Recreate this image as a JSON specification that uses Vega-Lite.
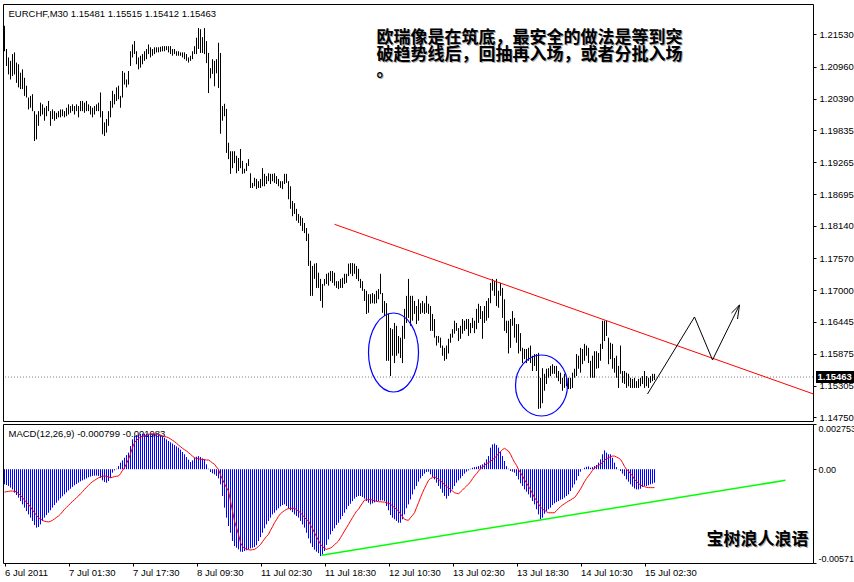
{
"$schema": "https://vega.github.io/schema/vega-lite/v6.json",
"padding": {"left": 2, "top": 3, "right": 0, "bottom": 0},
"background": "#ffffff",
"spacing": 3,
"bounds": "flush",
"config": {
  "view": {"stroke": "#000000", "strokeWidth": 1},
  "axis": {"labelFont": "Liberation Sans", "labelFontSize": 9.5, "labelColor": "#000000", "tickColor": "#000000", "tickSize": 3, "domain": false, "grid": false, "labelOverlap": false},
  "text": {"font": "Liberation Sans"}
},
"datasets": {
"bars": [
{"i":0,"h":1.2168,"l":1.2123,"m":-0.00092,"s":-0.00139},
{"i":1,"h":1.2127,"l":1.2097,"m":-0.00096,"s":-0.00137},
{"i":2,"h":1.2112,"l":1.2082,"m":-0.00102,"s":-0.00135},
{"i":3,"h":1.2106,"l":1.2073,"m":-0.00112,"s":-0.00133},
{"i":4,"h":1.2118,"l":1.2079,"m":-0.00123,"s":-0.00133},
{"i":5,"h":1.2121,"l":1.2082,"m":-0.00143,"s":-0.00135},
{"i":6,"h":1.2103,"l":1.2067,"m":-0.00157,"s":-0.00137},
{"i":7,"h":1.2100,"l":1.2059,"m":-0.00173,"s":-0.00149},
{"i":8,"h":1.2085,"l":1.2056,"m":-0.00194,"s":-0.00159},
{"i":9,"h":1.2091,"l":1.2056,"m":-0.00214,"s":-0.00173},
{"i":10,"h":1.2076,"l":1.2044,"m":-0.00234,"s":-0.00188},
{"i":11,"h":1.2062,"l":1.2041,"m":-0.00255,"s":-0.00202},
{"i":12,"h":1.2041,"l":1.2020,"m":-0.00275,"s":-0.00214},
{"i":13,"h":1.2044,"l":1.2023,"m":-0.00295,"s":-0.00230},
{"i":14,"h":1.2047,"l":1.2017,"m":-0.00315,"s":-0.00248},
{"i":15,"h":1.2017,"l":1.1964,"m":-0.00340,"s":-0.00265},
{"i":16,"h":1.2011,"l":1.1967,"m":-0.00356,"s":-0.00281},
{"i":17,"h":1.2017,"l":1.1991,"m":-0.00352,"s":-0.00295},
{"i":18,"h":1.2032,"l":1.2008,"m":-0.00336,"s":-0.00303},
{"i":19,"h":1.2029,"l":1.2011,"m":-0.00315,"s":-0.00311},
{"i":20,"h":1.2023,"l":1.2000,"m":-0.00295,"s":-0.00317},
{"i":21,"h":1.2026,"l":1.2008,"m":-0.00279,"s":-0.00319},
{"i":22,"h":1.2035,"l":1.2017,"m":-0.00265,"s":-0.00321},
{"i":23,"h":1.2017,"l":1.1991,"m":-0.00250,"s":-0.00317},
{"i":24,"h":1.2020,"l":1.2003,"m":-0.00234,"s":-0.00311},
{"i":25,"h":1.2017,"l":1.2000,"m":-0.00218,"s":-0.00303},
{"i":26,"h":1.2014,"l":1.2003,"m":-0.00204,"s":-0.00293},
{"i":27,"h":1.2017,"l":1.2006,"m":-0.00190,"s":-0.00285},
{"i":28,"h":1.2020,"l":1.2006,"m":-0.00177,"s":-0.00273},
{"i":29,"h":1.2020,"l":1.2008,"m":-0.00165,"s":-0.00259},
{"i":30,"h":1.2017,"l":1.2006,"m":-0.00153,"s":-0.00244},
{"i":31,"h":1.2023,"l":1.2008,"m":-0.00141,"s":-0.00232},
{"i":32,"h":1.2029,"l":1.2011,"m":-0.00129,"s":-0.00220},
{"i":33,"h":1.2026,"l":1.2014,"m":-0.00119,"s":-0.00208},
{"i":34,"h":1.2029,"l":1.2017,"m":-0.00108,"s":-0.00196},
{"i":35,"h":1.2026,"l":1.2011,"m":-0.00098,"s":-0.00186},
{"i":36,"h":1.2029,"l":1.2017,"m":-0.00090,"s":-0.00173},
{"i":37,"h":1.2026,"l":1.2006,"m":-0.00082,"s":-0.00163},
{"i":38,"h":1.2035,"l":1.2017,"m":-0.00074,"s":-0.00149},
{"i":39,"h":1.2035,"l":1.2017,"m":-0.00068,"s":-0.00137},
{"i":40,"h":1.2032,"l":1.2014,"m":-0.00062,"s":-0.00123},
{"i":41,"h":1.2035,"l":1.2017,"m":-0.00056,"s":-0.00110},
{"i":42,"h":1.2029,"l":1.2017,"m":-0.00049,"s":-0.00098},
{"i":43,"h":1.2026,"l":1.2011,"m":-0.00045,"s":-0.00086},
{"i":44,"h":1.2023,"l":1.2006,"m":-0.00041,"s":-0.00076},
{"i":45,"h":1.2026,"l":1.2011,"m":-0.00039,"s":-0.00068},
{"i":46,"h":1.2029,"l":1.2017,"m":-0.00039,"s":-0.00060},
{"i":47,"h":1.2032,"l":1.2017,"m":-0.00041,"s":-0.00052},
{"i":48,"h":1.2050,"l":1.2006,"m":-0.00052,"s":-0.00047},
{"i":49,"h":1.2017,"l":1.1976,"m":-0.00068,"s":-0.00043},
{"i":50,"h":1.1997,"l":1.1973,"m":-0.00078,"s":-0.00041},
{"i":51,"h":1.2003,"l":1.1979,"m":-0.00082,"s":-0.00043},
{"i":52,"h":1.2017,"l":1.1991,"m":-0.00072,"s":-0.00047},
{"i":53,"h":1.2035,"l":1.2006,"m":-0.00052,"s":-0.00052},
{"i":54,"h":1.2053,"l":1.2023,"m":-0.00021,"s":-0.00049},
{"i":55,"h":1.2047,"l":1.2029,"m":-0.00007,"s":-0.00045},
{"i":56,"h":1.2059,"l":1.2035,"m":0.00003,"s":-0.00043},
{"i":57,"h":1.2062,"l":1.2038,"m":0.00019,"s":-0.00041},
{"i":58,"h":1.2044,"l":1.2023,"m":0.00040,"s":-0.00027},
{"i":59,"h":1.2088,"l":1.2041,"m":0.00054,"s":-0.00007},
{"i":60,"h":1.2085,"l":1.2064,"m":0.00070,"s":0.00009},
{"i":61,"h":1.2073,"l":1.2059,"m":0.00086,"s":0.00034},
{"i":62,"h":1.2088,"l":1.2064,"m":0.00101,"s":0.00060},
{"i":63,"h":1.2123,"l":1.2097,"m":0.00141,"s":0.00095},
{"i":64,"h":1.2135,"l":1.2112,"m":0.00182,"s":0.00131},
{"i":65,"h":1.2141,"l":1.2118,"m":0.00202,"s":0.00162},
{"i":66,"h":1.2123,"l":1.2100,"m":0.00208,"s":0.00176},
{"i":67,"h":1.2112,"l":1.2091,"m":0.00212,"s":0.00186},
{"i":68,"h":1.2115,"l":1.2094,"m":0.00214,"s":0.00196},
{"i":69,"h":1.2118,"l":1.2100,"m":0.00216,"s":0.00200},
{"i":70,"h":1.2123,"l":1.2106,"m":0.00216,"s":0.00204},
{"i":71,"h":1.2127,"l":1.2109,"m":0.00216,"s":0.00208},
{"i":72,"h":1.2135,"l":1.2118,"m":0.00216,"s":0.00212},
{"i":73,"h":1.2130,"l":1.2112,"m":0.00216,"s":0.00214},
{"i":74,"h":1.2127,"l":1.2115,"m":0.00214,"s":0.00216},
{"i":75,"h":1.2130,"l":1.2118,"m":0.00214,"s":0.00216},
{"i":76,"h":1.2130,"l":1.2121,"m":0.00212,"s":0.00214},
{"i":77,"h":1.2130,"l":1.2121,"m":0.00212,"s":0.00212},
{"i":78,"h":1.2131,"l":1.2122,"m":0.00206,"s":0.00208},
{"i":79,"h":1.2132,"l":1.2123,"m":0.00198,"s":0.00204},
{"i":80,"h":1.2132,"l":1.2123,"m":0.00192,"s":0.00200},
{"i":81,"h":1.2132,"l":1.2125,"m":0.00182,"s":0.00196},
{"i":82,"h":1.2132,"l":1.2121,"m":0.00172,"s":0.00192},
{"i":83,"h":1.2132,"l":1.2118,"m":0.00164,"s":0.00184},
{"i":84,"h":1.2127,"l":1.2115,"m":0.00156,"s":0.00176},
{"i":85,"h":1.2127,"l":1.2118,"m":0.00147,"s":0.00168},
{"i":86,"h":1.2123,"l":1.2115,"m":0.00139,"s":0.00158},
{"i":87,"h":1.2123,"l":1.2115,"m":0.00131,"s":0.00147},
{"i":88,"h":1.2121,"l":1.2115,"m":0.00119,"s":0.00137},
{"i":89,"h":1.2121,"l":1.2112,"m":0.00105,"s":0.00127},
{"i":90,"h":1.2121,"l":1.2109,"m":0.00091,"s":0.00119},
{"i":91,"h":1.2118,"l":1.2106,"m":0.00074,"s":0.00111},
{"i":92,"h":1.2112,"l":1.2103,"m":0.00058,"s":0.00101},
{"i":93,"h":1.2115,"l":1.2106,"m":0.00044,"s":0.00091},
{"i":94,"h":1.2123,"l":1.2109,"m":0.00054,"s":0.00080},
{"i":95,"h":1.2132,"l":1.2118,"m":0.00070,"s":0.00070},
{"i":96,"h":1.2147,"l":1.2118,"m":0.00076,"s":0.00066},
{"i":97,"h":1.2164,"l":1.2127,"m":0.00080,"s":0.00064},
{"i":98,"h":1.2162,"l":1.2120,"m":0.00074,"s":0.00060},
{"i":99,"h":1.2148,"l":1.2120,"m":0.00066,"s":0.00060},
{"i":100,"h":1.2164,"l":1.2118,"m":0.00060,"s":0.00058},
{"i":101,"h":1.2141,"l":1.2102,"m":0.00030,"s":0.00056},
{"i":102,"h":1.2120,"l":1.2049,"m":0.00003,"s":0.00056},
{"i":103,"h":1.2093,"l":1.2075,"m":-0.00017,"s":0.00048},
{"i":104,"h":1.2109,"l":1.2083,"m":-0.00025,"s":0.00038},
{"i":105,"h":1.2106,"l":1.2061,"m":-0.00031,"s":0.00030},
{"i":106,"h":1.2109,"l":1.2084,"m":-0.00041,"s":0.00013},
{"i":107,"h":1.2138,"l":1.2058,"m":-0.00056,"s":-0.00001},
{"i":108,"h":1.2120,"l":1.1977,"m":-0.00092,"s":-0.00035},
{"i":109,"h":1.2026,"l":1.2000,"m":-0.00163,"s":-0.00062},
{"i":110,"h":1.2030,"l":1.2008,"m":-0.00234,"s":-0.00088},
{"i":111,"h":1.2021,"l":1.1943,"m":-0.00295,"s":-0.00112},
{"i":112,"h":1.1961,"l":1.1932,"m":-0.00346,"s":-0.00133},
{"i":113,"h":1.1946,"l":1.1906,"m":-0.00387,"s":-0.00194},
{"i":114,"h":1.1946,"l":1.1916,"m":-0.00437,"s":-0.00255},
{"i":115,"h":1.1946,"l":1.1925,"m":-0.00468,"s":-0.00315},
{"i":116,"h":1.1938,"l":1.1907,"m":-0.00478,"s":-0.00356},
{"i":117,"h":1.1934,"l":1.1911,"m":-0.00488,"s":-0.00397},
{"i":118,"h":1.1950,"l":1.1916,"m":-0.00502,"s":-0.00447},
{"i":119,"h":1.1929,"l":1.1906,"m":-0.00504,"s":-0.00470},
{"i":120,"h":1.1915,"l":1.1907,"m":-0.00498,"s":-0.00482},
{"i":121,"h":1.1925,"l":1.1911,"m":-0.00494,"s":-0.00486},
{"i":122,"h":1.1932,"l":1.1920,"m":-0.00488,"s":-0.00490},
{"i":123,"h":1.1907,"l":1.1881,"m":-0.00482,"s":-0.00492},
{"i":124,"h":1.1890,"l":1.1881,"m":-0.00478,"s":-0.00490},
{"i":125,"h":1.1899,"l":1.1884,"m":-0.00474,"s":-0.00488},
{"i":126,"h":1.1897,"l":1.1879,"m":-0.00463,"s":-0.00480},
{"i":127,"h":1.1893,"l":1.1881,"m":-0.00437,"s":-0.00470},
{"i":128,"h":1.1897,"l":1.1881,"m":-0.00413,"s":-0.00459},
{"i":129,"h":1.1916,"l":1.1884,"m":-0.00387,"s":-0.00441},
{"i":130,"h":1.1906,"l":1.1884,"m":-0.00360,"s":-0.00425},
{"i":131,"h":1.1902,"l":1.1888,"m":-0.00336,"s":-0.00409},
{"i":132,"h":1.1907,"l":1.1893,"m":-0.00315,"s":-0.00397},
{"i":133,"h":1.1906,"l":1.1888,"m":-0.00295,"s":-0.00372},
{"i":134,"h":1.1906,"l":1.1893,"m":-0.00275,"s":-0.00350},
{"i":135,"h":1.1907,"l":1.1890,"m":-0.00265,"s":-0.00326},
{"i":136,"h":1.1902,"l":1.1888,"m":-0.00250,"s":-0.00307},
{"i":137,"h":1.1897,"l":1.1884,"m":-0.00238,"s":-0.00287},
{"i":138,"h":1.1893,"l":1.1881,"m":-0.00226,"s":-0.00271},
{"i":139,"h":1.1893,"l":1.1879,"m":-0.00218,"s":-0.00261},
{"i":140,"h":1.1906,"l":1.1888,"m":-0.00214,"s":-0.00252},
{"i":141,"h":1.1906,"l":1.1890,"m":-0.00224,"s":-0.00244},
{"i":142,"h":1.1893,"l":1.1861,"m":-0.00238,"s":-0.00240},
{"i":143,"h":1.1884,"l":1.1844,"m":-0.00250,"s":-0.00238},
{"i":144,"h":1.1858,"l":1.1831,"m":-0.00261,"s":-0.00238},
{"i":145,"h":1.1854,"l":1.1835,"m":-0.00275,"s":-0.00238},
{"i":146,"h":1.1844,"l":1.1823,"m":-0.00285,"s":-0.00246},
{"i":147,"h":1.1835,"l":1.1819,"m":-0.00295,"s":-0.00255},
{"i":148,"h":1.1831,"l":1.1814,"m":-0.00315,"s":-0.00265},
{"i":149,"h":1.1828,"l":1.1805,"m":-0.00336,"s":-0.00279},
{"i":150,"h":1.1819,"l":1.1801,"m":-0.00356,"s":-0.00293},
{"i":151,"h":1.1810,"l":1.1787,"m":-0.00387,"s":-0.00307},
{"i":152,"h":1.1800,"l":1.1743,"m":-0.00421,"s":-0.00315},
{"i":153,"h":1.1752,"l":1.1690,"m":-0.00451,"s":-0.00340},
{"i":154,"h":1.1743,"l":1.1690,"m":-0.00474,"s":-0.00362},
{"i":155,"h":1.1747,"l":1.1720,"m":-0.00490,"s":-0.00387},
{"i":156,"h":1.1748,"l":1.1704,"m":-0.00502,"s":-0.00411},
{"i":157,"h":1.1731,"l":1.1704,"m":-0.00511,"s":-0.00433},
{"i":158,"h":1.1720,"l":1.1681,"m":-0.00529,"s":-0.00457},
{"i":159,"h":1.1711,"l":1.1669,"m":-0.00519,"s":-0.00470},
{"i":160,"h":1.1720,"l":1.1708,"m":-0.00498,"s":-0.00482},
{"i":161,"h":1.1729,"l":1.1711,"m":-0.00461,"s":-0.00488},
{"i":162,"h":1.1731,"l":1.1708,"m":-0.00427,"s":-0.00484},
{"i":163,"h":1.1734,"l":1.1716,"m":-0.00397,"s":-0.00480},
{"i":164,"h":1.1734,"l":1.1713,"m":-0.00376,"s":-0.00472},
{"i":165,"h":1.1731,"l":1.1708,"m":-0.00360,"s":-0.00459},
{"i":166,"h":1.1716,"l":1.1704,"m":-0.00340,"s":-0.00449},
{"i":167,"h":1.1716,"l":1.1702,"m":-0.00326,"s":-0.00437},
{"i":168,"h":1.1720,"l":1.1704,"m":-0.00305,"s":-0.00417},
{"i":169,"h":1.1722,"l":1.1704,"m":-0.00285,"s":-0.00397},
{"i":170,"h":1.1729,"l":1.1711,"m":-0.00265,"s":-0.00376},
{"i":171,"h":1.1729,"l":1.1713,"m":-0.00244,"s":-0.00356},
{"i":172,"h":1.1747,"l":1.1725,"m":-0.00224,"s":-0.00336},
{"i":173,"h":1.1748,"l":1.1729,"m":-0.00210,"s":-0.00315},
{"i":174,"h":1.1748,"l":1.1725,"m":-0.00194,"s":-0.00295},
{"i":175,"h":1.1747,"l":1.1729,"m":-0.00179,"s":-0.00275},
{"i":176,"h":1.1743,"l":1.1720,"m":-0.00169,"s":-0.00255},
{"i":177,"h":1.1738,"l":1.1716,"m":-0.00163,"s":-0.00244},
{"i":178,"h":1.1720,"l":1.1704,"m":-0.00163,"s":-0.00224},
{"i":179,"h":1.1716,"l":1.1699,"m":-0.00169,"s":-0.00206},
{"i":180,"h":1.1702,"l":1.1681,"m":-0.00179,"s":-0.00188},
{"i":181,"h":1.1699,"l":1.1658,"m":-0.00194,"s":-0.00186},
{"i":182,"h":1.1693,"l":1.1660,"m":-0.00204,"s":-0.00186},
{"i":183,"h":1.1693,"l":1.1676,"m":-0.00214,"s":-0.00184},
{"i":184,"h":1.1695,"l":1.1677,"m":-0.00208,"s":-0.00188},
{"i":185,"h":1.1693,"l":1.1676,"m":-0.00202,"s":-0.00192},
{"i":186,"h":1.1699,"l":1.1677,"m":-0.00196,"s":-0.00196},
{"i":187,"h":1.1702,"l":1.1684,"m":-0.00194,"s":-0.00198},
{"i":188,"h":1.1729,"l":1.1693,"m":-0.00190,"s":-0.00198},
{"i":189,"h":1.1695,"l":1.1660,"m":-0.00190,"s":-0.00200},
{"i":190,"h":1.1681,"l":1.1654,"m":-0.00194,"s":-0.00200},
{"i":191,"h":1.1677,"l":1.1575,"m":-0.00224,"s":-0.00204},
{"i":192,"h":1.1658,"l":1.1575,"m":-0.00250,"s":-0.00208},
{"i":193,"h":1.1633,"l":1.1548,"m":-0.00279,"s":-0.00212},
{"i":194,"h":1.1631,"l":1.1584,"m":-0.00295,"s":-0.00224},
{"i":195,"h":1.1642,"l":1.1571,"m":-0.00305,"s":-0.00234},
{"i":196,"h":1.1637,"l":1.1584,"m":-0.00315,"s":-0.00244},
{"i":197,"h":1.1619,"l":1.1588,"m":-0.00326,"s":-0.00255},
{"i":198,"h":1.1616,"l":1.1580,"m":-0.00326,"s":-0.00271},
{"i":199,"h":1.1637,"l":1.1571,"m":-0.00305,"s":-0.00289},
{"i":200,"h":1.1667,"l":1.1614,"m":-0.00275,"s":-0.00305},
{"i":201,"h":1.1690,"l":1.1642,"m":-0.00238,"s":-0.00309},
{"i":202,"h":1.1720,"l":1.1651,"m":-0.00214,"s":-0.00311},
{"i":203,"h":1.1690,"l":1.1637,"m":-0.00184,"s":-0.00295},
{"i":204,"h":1.1690,"l":1.1646,"m":-0.00153,"s":-0.00281},
{"i":205,"h":1.1681,"l":1.1658,"m":-0.00123,"s":-0.00265},
{"i":206,"h":1.1672,"l":1.1640,"m":-0.00102,"s":-0.00234},
{"i":207,"h":1.1684,"l":1.1646,"m":-0.00076,"s":-0.00204},
{"i":208,"h":1.1677,"l":1.1658,"m":-0.00056,"s":-0.00173},
{"i":209,"h":1.1681,"l":1.1660,"m":-0.00041,"s":-0.00143},
{"i":210,"h":1.1677,"l":1.1658,"m":-0.00027,"s":-0.00117},
{"i":211,"h":1.1690,"l":1.1660,"m":-0.00017,"s":-0.00092},
{"i":212,"h":1.1676,"l":1.1658,"m":-0.00015,"s":-0.00068},
{"i":213,"h":1.1672,"l":1.1628,"m":-0.00031,"s":-0.00056},
{"i":214,"h":1.1658,"l":1.1628,"m":-0.00047,"s":-0.00052},
{"i":215,"h":1.1649,"l":1.1616,"m":-0.00062,"s":-0.00047},
{"i":216,"h":1.1619,"l":1.1602,"m":-0.00082,"s":-0.00052},
{"i":217,"h":1.1619,"l":1.1607,"m":-0.00102,"s":-0.00062},
{"i":218,"h":1.1616,"l":1.1598,"m":-0.00119,"s":-0.00070},
{"i":219,"h":1.1602,"l":1.1584,"m":-0.00143,"s":-0.00082},
{"i":220,"h":1.1598,"l":1.1575,"m":-0.00163,"s":-0.00094},
{"i":221,"h":1.1602,"l":1.1578,"m":-0.00179,"s":-0.00106},
{"i":222,"h":1.1614,"l":1.1588,"m":-0.00163,"s":-0.00112},
{"i":223,"h":1.1623,"l":1.1607,"m":-0.00143,"s":-0.00123},
{"i":224,"h":1.1631,"l":1.1616,"m":-0.00123,"s":-0.00133},
{"i":225,"h":1.1646,"l":1.1623,"m":-0.00102,"s":-0.00143},
{"i":226,"h":1.1642,"l":1.1628,"m":-0.00082,"s":-0.00147},
{"i":227,"h":1.1633,"l":1.1610,"m":-0.00068,"s":-0.00149},
{"i":228,"h":1.1637,"l":1.1614,"m":-0.00056,"s":-0.00139},
{"i":229,"h":1.1649,"l":1.1623,"m":-0.00041,"s":-0.00127},
{"i":230,"h":1.1646,"l":1.1628,"m":-0.00027,"s":-0.00114},
{"i":231,"h":1.1649,"l":1.1631,"m":-0.00015,"s":-0.00102},
{"i":232,"h":1.1649,"l":1.1619,"m":-0.00007,"s":-0.00092},
{"i":233,"h":1.1642,"l":1.1624,"m":0.00003,"s":-0.00076},
{"i":234,"h":1.1651,"l":1.1633,"m":0.00009,"s":-0.00058},
{"i":235,"h":1.1646,"l":1.1624,"m":0.00013,"s":-0.00041},
{"i":236,"h":1.1667,"l":1.1631,"m":0.00015,"s":-0.00027},
{"i":237,"h":1.1676,"l":1.1642,"m":0.00019,"s":-0.00011},
{"i":238,"h":1.1672,"l":1.1649,"m":0.00024,"s":0.00003},
{"i":239,"h":1.1663,"l":1.1614,"m":0.00030,"s":0.00013},
{"i":240,"h":1.1672,"l":1.1642,"m":0.00040,"s":0.00024},
{"i":241,"h":1.1681,"l":1.1646,"m":0.00060,"s":0.00034},
{"i":242,"h":1.1686,"l":1.1651,"m":0.00080,"s":0.00040},
{"i":243,"h":1.1713,"l":1.1677,"m":0.00131,"s":0.00048},
{"i":244,"h":1.1720,"l":1.1699,"m":0.00151,"s":0.00058},
{"i":245,"h":1.1716,"l":1.1690,"m":0.00156,"s":0.00068},
{"i":246,"h":1.1720,"l":1.1672,"m":0.00147,"s":0.00080},
{"i":247,"h":1.1699,"l":1.1669,"m":0.00131,"s":0.00095},
{"i":248,"h":1.1713,"l":1.1690,"m":0.00107,"s":0.00107},
{"i":249,"h":1.1704,"l":1.1651,"m":0.00080,"s":0.00119},
{"i":250,"h":1.1684,"l":1.1628,"m":0.00050,"s":0.00127},
{"i":251,"h":1.1646,"l":1.1624,"m":0.00019,"s":0.00119},
{"i":252,"h":1.1646,"l":1.1588,"m":0.00003,"s":0.00111},
{"i":253,"h":1.1649,"l":1.1598,"m":-0.00011,"s":0.00091},
{"i":254,"h":1.1663,"l":1.1637,"m":-0.00015,"s":0.00066},
{"i":255,"h":1.1651,"l":1.1616,"m":-0.00021,"s":0.00042},
{"i":256,"h":1.1640,"l":1.1607,"m":-0.00041,"s":0.00024},
{"i":257,"h":1.1640,"l":1.1588,"m":-0.00062,"s":-0.00003},
{"i":258,"h":1.1624,"l":1.1592,"m":-0.00086,"s":-0.00021},
{"i":259,"h":1.1598,"l":1.1571,"m":-0.00102,"s":-0.00041},
{"i":260,"h":1.1596,"l":1.1578,"m":-0.00123,"s":-0.00064},
{"i":261,"h":1.1596,"l":1.1571,"m":-0.00137,"s":-0.00084},
{"i":262,"h":1.1598,"l":1.1575,"m":-0.00153,"s":-0.00104},
{"i":263,"h":1.1602,"l":1.1571,"m":-0.00173,"s":-0.00125},
{"i":264,"h":1.1584,"l":1.1557,"m":-0.00194,"s":-0.00149},
{"i":265,"h":1.1587,"l":1.1566,"m":-0.00214,"s":-0.00173},
{"i":266,"h":1.1587,"l":1.1557,"m":-0.00244,"s":-0.00190},
{"i":267,"h":1.1589,"l":1.1490,"m":-0.00275,"s":-0.00210},
{"i":268,"h":1.1545,"l":1.1491,"m":-0.00305,"s":-0.00230},
{"i":269,"h":1.1562,"l":1.1500,"m":-0.00295,"s":-0.00242},
{"i":270,"h":1.1552,"l":1.1522,"m":-0.00271,"s":-0.00250},
{"i":271,"h":1.1561,"l":1.1534,"m":-0.00255,"s":-0.00259},
{"i":272,"h":1.1562,"l":1.1545,"m":-0.00244,"s":-0.00265},
{"i":273,"h":1.1566,"l":1.1548,"m":-0.00234,"s":-0.00265},
{"i":274,"h":1.1569,"l":1.1552,"m":-0.00218,"s":-0.00265},
{"i":275,"h":1.1566,"l":1.1552,"m":-0.00208,"s":-0.00265},
{"i":276,"h":1.1566,"l":1.1545,"m":-0.00200,"s":-0.00252},
{"i":277,"h":1.1557,"l":1.1539,"m":-0.00194,"s":-0.00240},
{"i":278,"h":1.1554,"l":1.1534,"m":-0.00186,"s":-0.00228},
{"i":279,"h":1.1545,"l":1.1522,"m":-0.00182,"s":-0.00218},
{"i":280,"h":1.1552,"l":1.1527,"m":-0.00173,"s":-0.00210},
{"i":281,"h":1.1545,"l":1.1530,"m":-0.00163,"s":-0.00202},
{"i":282,"h":1.1545,"l":1.1525,"m":-0.00153,"s":-0.00194},
{"i":283,"h":1.1545,"l":1.1525,"m":-0.00133,"s":-0.00188},
{"i":284,"h":1.1554,"l":1.1527,"m":-0.00112,"s":-0.00179},
{"i":285,"h":1.1561,"l":1.1545,"m":-0.00092,"s":-0.00173},
{"i":286,"h":1.1587,"l":1.1548,"m":-0.00068,"s":-0.00157},
{"i":287,"h":1.1584,"l":1.1561,"m":-0.00041,"s":-0.00139},
{"i":288,"h":1.1598,"l":1.1554,"m":-0.00015,"s":-0.00121},
{"i":289,"h":1.1596,"l":1.1569,"m":-0.00001,"s":-0.00098},
{"i":290,"h":1.1605,"l":1.1575,"m":0.00009,"s":-0.00076},
{"i":291,"h":1.1602,"l":1.1584,"m":0.00015,"s":-0.00056},
{"i":292,"h":1.1598,"l":1.1571,"m":0.00017,"s":-0.00041},
{"i":293,"h":1.1575,"l":1.1545,"m":0.00009,"s":-0.00025},
{"i":294,"h":1.1584,"l":1.1545,"m":0.00013,"s":-0.00007},
{"i":295,"h":1.1592,"l":1.1545,"m":0.00019,"s":0.00009},
{"i":296,"h":1.1592,"l":1.1561,"m":0.00026,"s":0.00015},
{"i":297,"h":1.1589,"l":1.1562,"m":0.00040,"s":0.00024},
{"i":298,"h":1.1605,"l":1.1575,"m":0.00060,"s":0.00030},
{"i":299,"h":1.1646,"l":1.1596,"m":0.00091,"s":0.00042},
{"i":300,"h":1.1646,"l":1.1610,"m":0.00115,"s":0.00054},
{"i":301,"h":1.1646,"l":1.1619,"m":0.00101,"s":0.00064},
{"i":302,"h":1.1616,"l":1.1569,"m":0.00091,"s":0.00070},
{"i":303,"h":1.1607,"l":1.1578,"m":0.00091,"s":0.00076},
{"i":304,"h":1.1605,"l":1.1561,"m":0.00070,"s":0.00080},
{"i":305,"h":1.1580,"l":1.1554,"m":0.00040,"s":0.00080},
{"i":306,"h":1.1584,"l":1.1545,"m":0.00013,"s":0.00074},
{"i":307,"h":1.1566,"l":1.1527,"m":-0.00001,"s":0.00068},
{"i":308,"h":1.1602,"l":1.1552,"m":-0.00011,"s":0.00060},
{"i":309,"h":1.1557,"l":1.1536,"m":-0.00027,"s":0.00040},
{"i":310,"h":1.1557,"l":1.1534,"m":-0.00041,"s":0.00017},
{"i":311,"h":1.1554,"l":1.1527,"m":-0.00062,"s":-0.00001},
{"i":312,"h":1.1552,"l":1.1530,"m":-0.00076,"s":-0.00011},
{"i":313,"h":1.1545,"l":1.1527,"m":-0.00092,"s":-0.00027},
{"i":314,"h":1.1543,"l":1.1527,"m":-0.00106,"s":-0.00041},
{"i":315,"h":1.1545,"l":1.1527,"m":-0.00117,"s":-0.00062},
{"i":316,"h":1.1539,"l":1.1527,"m":-0.00123,"s":-0.00074},
{"i":317,"h":1.1543,"l":1.1527,"m":-0.00123,"s":-0.00086},
{"i":318,"h":1.1545,"l":1.1530,"m":-0.00119,"s":-0.00096},
{"i":319,"h":1.1548,"l":1.1534,"m":-0.00108,"s":-0.00102},
{"i":320,"h":1.1557,"l":1.1527,"m":-0.00102,"s":-0.00106},
{"i":321,"h":1.1548,"l":1.1530,"m":-0.00102,"s":-0.00110},
{"i":322,"h":1.1545,"l":1.1527,"m":-0.00098,"s":-0.00112},
{"i":323,"h":1.1548,"l":1.1536,"m":-0.00092,"s":-0.00112},
{"i":324,"h":1.1552,"l":1.1539,"m":-0.00088,"s":-0.00112},
{"i":325,"h":1.1552,"l":1.1541,"m":-0.00082,"s":-0.00112}
]
},
"vconcat": [
{
  "width": 810, "height": 417,
  "layer": [
    {
      "data": {"values": [{"p": 1.15463}]},
      "mark": {"type": "rule", "color": "#808080", "strokeWidth": 1, "strokeDash": [1, 2]},
      "encoding": {
        "y": {"field": "p", "type": "quantitative", "title": null,
              "scale": {"domain": [1.146847, 1.220664], "nice": false, "zero": false},
              "axis": {"orient": "right", "values": [1.2153, 1.2096, 1.2039, 1.19835, 1.19265, 1.18695, 1.1814, 1.1757, 1.17, 1.16445, 1.15875, 1.15305, 1.1475], "tickCount": 30, "format": ".5f", "tickSize": 3, "labelPadding": 3, "labelOverlap": false, "labelBound": false, "title": null}}
      }
    },
    {
      "data": {"name": "bars"},
      "mark": {"type": "rule", "color": "#000000", "strokeWidth": 1},
      "encoding": {
        "x": {"field": "i", "type": "quantitative", "title": null, "scale": {"domain": [-0.75, 404.25], "nice": false, "zero": false}, "axis": null},
        "y": {"field": "l", "type": "quantitative", "title": null},
        "y2": {"field": "h"}
      }
    },
    {
      "data": {"values": [{"i": 165, "p": 1.181666}, {"i": 404.5, "p": 1.151626}]},
      "mark": {"type": "line", "color": "#FF0000", "strokeWidth": 1},
      "encoding": {
        "x": {"field": "i", "type": "quantitative", "title": null, "axis": null},
        "y": {"field": "p", "type": "quantitative", "title": null}
      }
    },
    {
      "data": {"values": [
        {"g": "a", "k": 1, "i": 321.5, "p": 1.15163},
        {"g": "a", "k": 2, "i": 345, "p": 1.16526},
        {"g": "a", "k": 3, "i": 354, "p": 1.15765},
        {"g": "a", "k": 4, "i": 367.5, "p": 1.16738},
        {"g": "b", "k": 1, "i": 363.5, "p": 1.16597},
        {"g": "b", "k": 2, "i": 367.5, "p": 1.16738},
        {"g": "b", "k": 3, "i": 366.5, "p": 1.16490}
      ]},
      "mark": {"type": "line", "color": "#000000", "strokeWidth": 1},
      "encoding": {
        "x": {"field": "i", "type": "quantitative", "title": null, "axis": null},
        "y": {"field": "p", "type": "quantitative", "title": null},
        "detail": {"field": "g"},
        "order": {"field": "k"}
      }
    },
    {
      "data": {"values": [{"i": 194.5, "p": 1.158972}]},
      "mark": {"type": "point", "shape": "M-0.633,0A0.633,1,0,1,1,0.633,0A0.633,1,0,1,1,-0.633,0Z", "size": 6241, "filled": false, "stroke": "#0000FF", "strokeWidth": 1.2, "opacity": 1},
      "encoding": {
        "x": {"field": "i", "type": "quantitative", "title": null, "axis": null},
        "y": {"field": "p", "type": "quantitative", "title": null}
      }
    },
    {
      "data": {"values": [{"i": 268.5, "p": 1.153131}]},
      "mark": {"type": "point", "shape": "M-0.852,0A0.852,1,0,1,1,0.852,0A0.852,1,0,1,1,-0.852,0Z", "size": 3721, "filled": false, "stroke": "#0000FF", "strokeWidth": 1.2, "opacity": 1},
      "encoding": {
        "x": {"field": "i", "type": "quantitative", "title": null, "axis": null},
        "y": {"field": "p", "type": "quantitative", "title": null}
      }
    },
    {
      "data": {"values": [{"i": 2, "p": 1.21845, "t": "EURCHF,M30  1.15481 1.15515 1.15412 1.15463"}]},
      "mark": {"type": "text", "align": "left", "baseline": "alphabetic", "fontSize": 9.5, "color": "#000000", "font": "Liberation Sans"},
      "encoding": {
        "x": {"field": "i", "type": "quantitative", "title": null, "axis": null},
        "y": {"field": "p", "type": "quantitative", "title": null},
        "text": {"field": "t"}
      }
    },
    {
      "data": {"values": [{"i": 186, "p": 1.21376, "t": ["欧瑞像是在筑底，最安全的做法是等到突", "破趋势线后，回抽再入场，或者分批入场", "。"]}]},
      "mark": {"type": "text", "align": "left", "baseline": "alphabetic", "fontSize": 17, "lineHeight": 16.5, "fontWeight": "bold", "color": "#a8a8a8", "font": "Noto Sans CJK SC", "dx": 1, "dy": 1},
      "encoding": {
        "x": {"field": "i", "type": "quantitative", "title": null, "axis": null},
        "y": {"field": "p", "type": "quantitative", "title": null},
        "text": {"field": "t"}
      }
    },
    {
      "data": {"values": [{"i": 186, "p": 1.21376, "t": ["欧瑞像是在筑底，最安全的做法是等到突", "破趋势线后，回抽再入场，或者分批入场", "。"]}]},
      "mark": {"type": "text", "align": "left", "baseline": "alphabetic", "fontSize": 17, "lineHeight": 16.5, "fontWeight": "bold", "color": "#000000", "font": "Noto Sans CJK SC"},
      "encoding": {
        "x": {"field": "i", "type": "quantitative", "title": null, "axis": null},
        "y": {"field": "p", "type": "quantitative", "title": null},
        "text": {"field": "t"}
      }
    },
    {
      "data": {"values": [{"a": 405.75, "b": 424.75, "p": 1.15463}]},
      "mark": {"type": "rule", "color": "#000000", "strokeWidth": 12, "strokeCap": "butt"},
      "encoding": {
        "x": {"field": "a", "type": "quantitative", "title": null, "axis": null},
        "x2": {"field": "b"},
        "y": {"field": "p", "type": "quantitative", "title": null}
      }
    },
    {
      "data": {"values": [{"a": 406.5, "p": 1.15463, "t": "1.15463"}]},
      "mark": {"type": "text", "align": "left", "baseline": "middle", "fontSize": 9.5, "fontWeight": "bold", "color": "#ffffff", "font": "Liberation Sans"},
      "encoding": {
        "x": {"field": "a", "type": "quantitative", "title": null, "axis": null},
        "y": {"field": "p", "type": "quantitative", "title": null},
        "text": {"field": "t"}
      }
    }
  ]
},
{
  "width": 810, "height": 139,
  "layer": [
    {
      "data": {"values": [{"i": 2, "v": 0.00196, "t": "MACD(12,26,9) -0.000799 -0.001983"}]},
      "mark": {"type": "text", "align": "left", "baseline": "alphabetic", "fontSize": 9.5, "color": "#000000", "font": "Liberation Sans"},
      "encoding": {
        "x": {"field": "i", "type": "quantitative", "title": null,
              "scale": {"domain": [-0.75, 404.25], "nice": false, "zero": false},
              "axis": {"orient": "bottom", "values": [0, 32, 64, 96, 128, 160, 192, 224, 256, 288, 320], "tickCount": 30, "labelExpr": "['6 Jul 2011','7 Jul 01:30','7 Jul 17:30','8 Jul 09:30','11 Jul 02:30','11 Jul 18:30','12 Jul 10:30','13 Jul 02:30','13 Jul 18:30','14 Jul 10:30','15 Jul 02:30'][round(datum.value/32)]", "labelAlign": "left", "labelBaseline": "top", "labelPadding": 1, "tickSize": 3, "labelFlush": false, "labelOverlap": false, "title": null}},
        "y": {"field": "v", "type": "quantitative", "title": null,
              "scale": {"domain": [-0.00571, 0.002753], "nice": false, "zero": false},
              "axis": {"orient": "right", "values": [0.002753, 0, -0.00571], "tickCount": 10, "labelExpr": "datum.value > 0.001 ? '0.002753' : (datum.value < -0.001 ? '-0.00571' : '0.00')", "labelFlush": true, "labelOverlap": false, "labelFontSize": 9, "tickSize": 3, "labelPadding": 2, "title": null}},
        "text": {"field": "t"}
      }
    },
    {
      "data": {"name": "bars"},
      "mark": {"type": "rule", "color": "#0000FF", "strokeWidth": 1},
      "encoding": {
        "x": {"field": "i", "type": "quantitative", "title": null},
        "y": {"field": "m", "type": "quantitative", "title": null},
        "y2": {"datum": 0}
      }
    },
    {
      "data": {"name": "bars"},
      "mark": {"type": "line", "color": "#FF0000", "strokeWidth": 1},
      "encoding": {
        "x": {"field": "i", "type": "quantitative", "title": null},
        "y": {"field": "s", "type": "quantitative", "title": null}
      }
    },
    {
      "data": {"values": [{"i": 158.5, "v": -0.005242}, {"i": 390.5, "v": -0.000676}]},
      "mark": {"type": "line", "color": "#00FF00", "strokeWidth": 1.5},
      "encoding": {
        "x": {"field": "i", "type": "quantitative", "title": null},
        "y": {"field": "v", "type": "quantitative", "title": null}
      }
    },
    {
      "data": {"values": [{"i": 351, "v": -0.004615, "t": "宝树浪人浪语"}]},
      "mark": {"type": "text", "align": "left", "baseline": "alphabetic", "fontSize": 17, "fontWeight": "bold", "color": "#a8a8a8", "font": "Noto Sans CJK SC", "dx": 1, "dy": 1},
      "encoding": {
        "x": {"field": "i", "type": "quantitative", "title": null},
        "y": {"field": "v", "type": "quantitative", "title": null},
        "text": {"field": "t"}
      }
    },
    {
      "data": {"values": [{"i": 351, "v": -0.004615, "t": "宝树浪人浪语"}]},
      "mark": {"type": "text", "align": "left", "baseline": "alphabetic", "fontSize": 17, "fontWeight": "bold", "color": "#000000", "font": "Noto Sans CJK SC"},
      "encoding": {
        "x": {"field": "i", "type": "quantitative", "title": null},
        "y": {"field": "v", "type": "quantitative", "title": null},
        "text": {"field": "t"}
      }
    }
  ]
}
]
}
